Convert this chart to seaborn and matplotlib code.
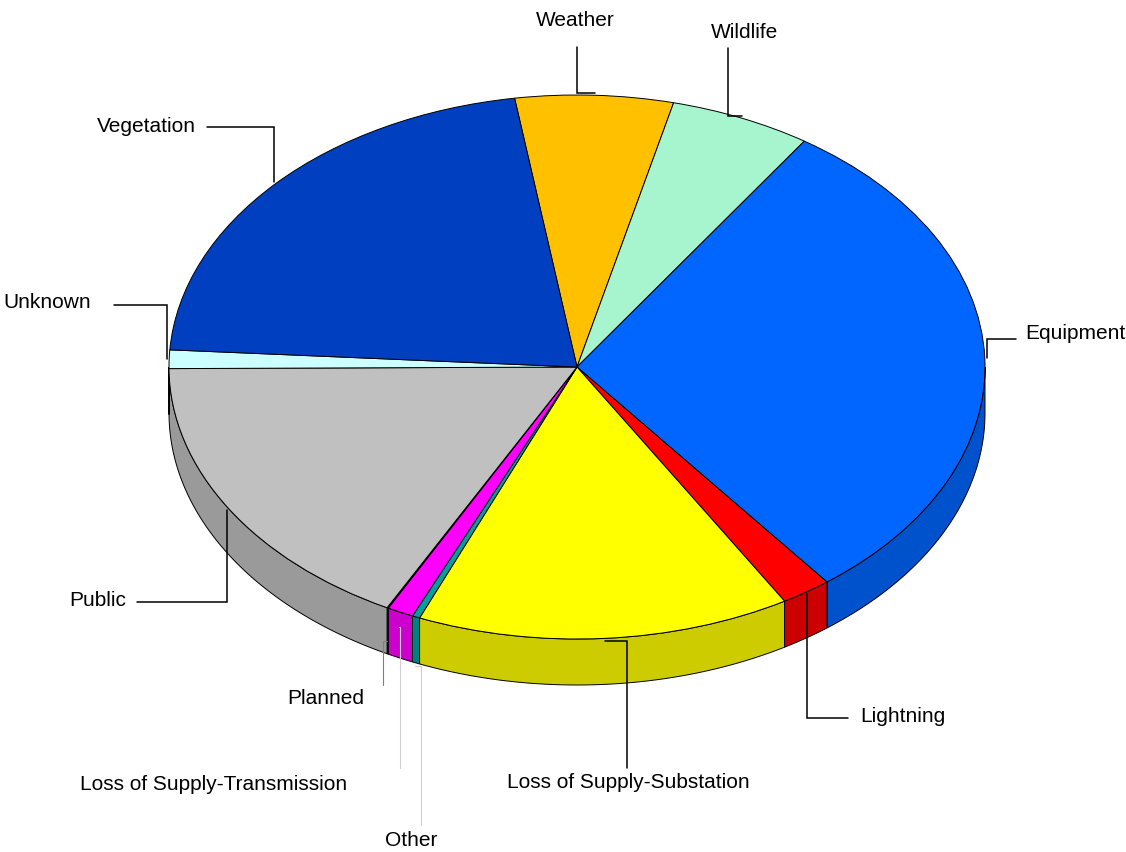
import numpy as np
import matplotlib
matplotlib.use("Agg")
import matplotlib.pyplot as plt
from matplotlib.colors import to_rgb
import seaborn as sns

# outage causes, share of events (%), clockwise from the top of the pie
causes = ["Weather", "Wildlife", "Equipment", "Lightning",
          "Loss of Supply-Substation", "Other", "Loss of Supply-Transmission",
          "Planned", "Public", "Unknown", "Vegetation"]
share = [6.25, 5.6, 30.1, 2.0, 14.8, 0.3, 1.05, 0.05, 17.2, 1.1, 21.55]
top_colors = ["#FFC000", "#A6F5CE", "#0066FF", "#FF0000", "#FFFF00",
              "#00A0A0", "#FF00FF", "#FF00FF", "#C0C0C0", "#CCFFFF", "#0040C0"]

# layout (pixels): pie centre, radii, thickness
cx, cy, rx, ry = 577, 367, 408, 272
depth_px = 46
start_angle = 98.8

# label text position (px), alignment, leader end (px), elbow mode, drop (px), line colour
labels = {
    "Weather": ((575, 20), "center", (577, 47), "hv", 0, "black"),
    "Wildlife": ((745, 32), "center", (728, 48), "hv", 0, "black"),
    "Equipment": ((1025, 333), "left", (1016, 339), "vh", 0, "black"),
    "Lightning": ((860, 717), "left", (848, 718), "vh", 0, "black"),
    "Loss of Supply-Substation": ((628, 782), "center", (627, 768), "hv", 0, "black"),
    "Other": ((411, 840), "center", (421, 825), "hv", 47, "#d0d0d0"),
    "Loss of Supply-Transmission": ((214, 784), "center", (400, 768), "hv", 12, "#d0d0d0"),
    "Planned": ((326, 699), "center", (383, 685), "hv", 31, "#808080"),
    "Public": ((126, 601), "right", (137, 602), "vh", 0, "black"),
    "Unknown": ((91, 302), "right", (114, 305), "vh", 0, "black"),
    "Vegetation": ((196, 126), "right", (207, 127), "vh", 0, "black"),
}


def to_data(px, py):
    return (px - cx) / rx, (cy - py) / ry


sns.set_style("white")
plt.rcParams['font.family'] = ['Liberation Sans', 'DejaVu Sans']

fig = plt.figure(figsize=(11.26, 8.52), dpi=100)
ax = fig.add_axes([0, 0, 1, 1])

vals = np.array(share, dtype=float)
edges = start_angle - 360 * np.concatenate([[0], np.cumsum(vals)]) / vals.sum()
depth = depth_px / ry

# side walls for the front half of the pie
for i, c in enumerate(top_colors):
    hi, lo = edges[i], edges[i + 1]
    for k in (-1, 0, 1):
        a, b = max(lo, -180 + 360 * k), min(hi, 0 + 360 * k)
        if b <= a:
            continue
        t = np.radians(np.linspace(a, b, 80))
        xs, ys = np.cos(t), np.sin(t)
        side = np.array(to_rgb(c)) * 0.8
        ax.fill(np.concatenate([xs, xs[::-1]]),
                np.concatenate([ys, ys[::-1] - depth]),
                facecolor=side, edgecolor="black", linewidth=0.7, zorder=1)

# top face
ax.pie(vals, colors=top_colors, startangle=start_angle, counterclock=False,
       wedgeprops=dict(edgecolor="black", linewidth=0.7, zorder=2))

# leader lines and labels
for i, name in enumerate(causes):
    (tx, ty), ha, (ex, ey), mode, drop, lc = labels[name]
    mid = np.radians((edges[i] + edges[i + 1]) / 2)
    ax0 = cx + rx * 1.005 * np.cos(mid)
    ay0 = cy - ry * 1.01 * np.sin(mid) + drop
    if mode == "hv":
        pts = [(ax0, ay0), (ex, ay0), (ex, ey)]
    else:
        pts = [(ax0, ay0), (ax0, ey), (ex, ey)]
    xy = np.array([to_data(*p) for p in pts])
    lw = 1.1 if lc == "black" else 0.8
    ax.plot(xy[:, 0], xy[:, 1], color=lc, linewidth=lw, zorder=3,
            solid_joinstyle="miter")
    lx, ly = to_data(tx, ty)
    ax.text(lx, ly, name, ha=ha, va="center", fontsize=15, color="black", zorder=4)

ax.set_aspect("auto")
ax.set_xlim(-cx / rx, (1126 - cx) / rx)
ax.set_ylim((cy - 852) / ry, cy / ry)
ax.axis("off")

fig.savefig("out.png", dpi=100, facecolor="white")
